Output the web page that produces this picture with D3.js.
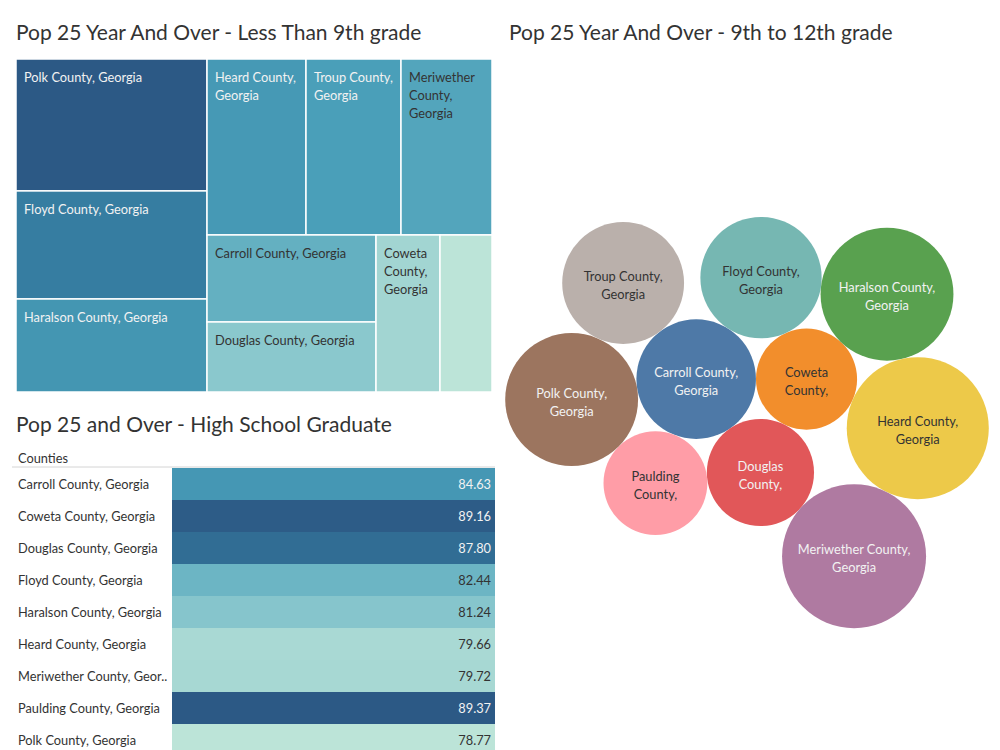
<!DOCTYPE html>
<html><head><meta charset="utf-8">
<script src="https://cdn.jsdelivr.net/npm/d3@7"></script>
<style>body{margin:0;background:#fff;} svg{display:block;font-family:"Lato",sans-serif;}</style>
</head><body><svg id="c" width="1000" height="750"></svg>
<script>
// ---------- data ----------
const counties = ["Carroll County, Georgia","Coweta County, Georgia","Douglas County, Georgia","Floyd County, Georgia","Haralson County, Georgia","Heard County, Georgia","Meriwether County, Georgia","Paulding County, Georgia","Polk County, Georgia","Troup County, Georgia"];
// Pop 25+ less than 9th grade (treemap sizes, estimated)
const lessThan9th = [4.61,3.15,3.71,6.47,5.57,5.46,5.02,2.56,7.90,5.24];
// Pop 25+ 9th to 12th grade (bubble sizes, estimated)
const grade9to12 = [10.2,7.3,8.2,10.5,12.6,14.4,14.8,7.7,12.6,10.6];
// High school graduate table
const tableCounties = ["Carroll County, Georgia","Coweta County, Georgia","Douglas County, Georgia","Floyd County, Georgia","Haralson County, Georgia","Heard County, Georgia","Meriwether County, Georgia","Paulding County, Georgia","Polk County, Georgia"];
const hsGrad = [84.63,89.16,87.80,82.44,81.24,79.66,79.72,89.37,78.77];
const titles = ["Pop 25 Year And Over - Less Than 9th grade","Pop 25 Year And Over - 9th to 12th grade","Pop 25 and Over - High School Graduate"];
const tableHeader = "Counties";

// ---------- styles ----------
const blueTeal = ["#bce4d8","#82c3cb","#4a9fb9","#347a9f","#2c5985"];
const darkText = "#333333", lightText = "#f2f2f2";
const FS = 12.8, TFS = 21;
const svg = d3.select("#c");

function seqColor(values){
  const lo=d3.min(values), hi=d3.max(values);
  const s=d3.scaleLinear().domain(blueTeal.map((_,i)=>lo+(hi-lo)*i/(blueTeal.length-1))).range(blueTeal);
  const t=d3.scaleLinear().domain([lo,hi]).range([0,1]);
  s.textFor = v => t(v) < 0.48 ? darkText : lightText;
  return s;
}
function relLum(c){
  const r=d3.rgb(c); const f=v=>{v/=255; return v<=0.03928? v/12.92 : Math.pow((v+0.055)/1.055,2.4);};
  return 0.2126*f(r.r)+0.7152*f(r.g)+0.0722*f(r.b);
}
const textOn = c => relLum(c) > 0.31 ? darkText : lightText;

const meas = svg.append("text").attr("visibility","hidden");
function tw(s,size){ meas.style("font-size",size+"px").text(s); return meas.node().getComputedTextLength(); }
function wrap(str,maxW,size){
  const words=str.split(" "); const lines=[]; let cur="";
  for(const w of words){
    const t=cur?cur+" "+w:w;
    if(!cur || tw(t,size)<=maxW) cur=t; else { lines.push(cur); cur=w; }
  }
  if(cur) lines.push(cur);
  return lines;
}

// ---------- titles ----------
svg.append("text").attr("x",16).attr("y",40).text(titles[0]).style("font-size",TFS+"px").attr("fill","#333");
svg.append("text").attr("x",509).attr("y",40).text(titles[1]).style("font-size",TFS+"px").attr("fill","#333");
svg.append("text").attr("x",16).attr("y",432).text(titles[2]).style("font-size",TFS+"px").attr("fill","#333");

// ---------- treemap ----------
const tm = {x:16,y:59,w:476,h:333};
const root = d3.hierarchy({children:counties.map((c,i)=>({name:c,value:lessThan9th[i]}))})
  .sum(d=>d.value||0).sort((a,b)=>b.value-a.value);
d3.treemap().size([tm.w,tm.h]).tile(d3.treemapSquarify)(root);
const tmColor = seqColor(lessThan9th);
const tg = svg.append("g").attr("transform",`translate(${tm.x},${tm.y})`);
const cells = tg.selectAll("g").data(root.leaves()).join("g");
cells.append("rect").attr("x",d=>d.x0).attr("y",d=>d.y0)
  .attr("width",d=>d.x1-d.x0).attr("height",d=>d.y1-d.y0)
  .attr("fill",d=>tmColor(d.data.value)).attr("stroke","#fff").attr("stroke-width",1.5);
cells.each(function(d){
  const w=d.x1-d.x0-16, h=d.y1-d.y0;
  const lines=wrap(d.data.name,w,FS);
  if(lines.some(l=>tw(l,FS)>w)) return;
  const maxLines=Math.floor((h-6)/18);
  const t=d3.select(this).append("text").style("font-size",FS+"px").attr("fill",tmColor.textFor(d.data.value));
  lines.slice(0,maxLines).forEach((l,i)=>t.append("tspan").attr("x",d.x0+8).attr("y",d.y0+23+i*18).text(l));
});

// ---------- bubbles (front-chain packing) ----------
const rScale = d3.scaleSqrt().domain([0,d3.max(grade9to12)]).range([0,72]);
const circles = counties.map((c,i)=>({name:c,value:grade9to12[i],r:rScale(grade9to12[i]),color:d3.schemeTableau10[i]}));

function placeOut(p,q,c){
  const dx=q.x-p.x, dy=q.y-p.y, d=Math.hypot(dx,dy);
  const ra=p.r+c.r, rb=q.r+c.r;
  const t=(d*d+ra*ra-rb*rb)/(2*d);
  const h=Math.sqrt(Math.max(0,ra*ra-t*t));
  const ux=dx/d, uy=dy/d;
  c.x=p.x+t*ux+h*uy; c.y=p.y+t*uy-h*ux;
}
function intersects(a,b){ const dx=b.x-a.x, dy=b.y-a.y, dr=a.r+b.r-1e-6; return dr>0 && dr*dr>dx*dx+dy*dy; }
function frontChainPack(cs){
  const n=cs.length; if(!n) return;
  const a=cs[0]; a.x=-a.r; a.y=0; if(n<2) return;
  const b=cs[1]; b.x=b.r; b.y=0; if(n<3) return;
  placeOut(b,a,cs[2]);
  const mk=d=>({_:d,next:null,prev:null});
  const A=mk(a),B=mk(b),C=mk(cs[2]);
  A.next=B;B.next=C;C.next=A;A.prev=C;B.prev=A;C.prev=B;
  let head=C;
  const dist=nd=>Math.hypot(nd._.x,nd._.y);
  for(let i=3;i<n;i++){
    const ci=cs[i];
    let m=head, md=dist(head), k0=head.next;
    while(k0!==head){ const dd=dist(k0); if(dd<md){m=k0;md=dd;} k0=k0.next; }
    let p=m.prev, q=m;
    for(;;){
      placeOut(p._,q._,ci);
      let j=q.next, k=p.prev, sj=q._.r, sk=p._.r, retry=false;
      if(j!==p){
        do{
          if(sj<=sk){
            if(intersects(j._,ci)){ q=j; p.next=q; q.prev=p; retry=true; break; }
            sj+=j._.r; j=j.next;
          } else {
            if(intersects(k._,ci)){ p=k; p.next=q; q.prev=p; retry=true; break; }
            sk+=k._.r; k=k.prev;
          }
        } while(j!==k.next);
      }
      if(!retry) break;
    }
    const N=mk(ci); N.prev=p; N.next=q; p.next=N; q.prev=N; head=N;
  }
}
frontChainPack(circles);
const bx0=d3.min(circles,d=>d.x-d.r), bx1=d3.max(circles,d=>d.x+d.r);
const by0=d3.min(circles,d=>d.y-d.r), by1=d3.max(circles,d=>d.y+d.r);
const bcx=747, bcy=422.6;
const bxS=d3.scaleLinear().domain([bx0,bx1]).range([bcx-(bx1-bx0)/2,bcx+(bx1-bx0)/2]);
const byS=d3.scaleLinear().domain([by0,by1]).range([bcy-(by1-by0)/2,bcy+(by1-by0)/2]);
const bg=svg.append("g");
const bub=bg.selectAll("g").data(circles).join("g");
bub.append("circle").attr("cx",d=>bxS(d.x)).attr("cy",d=>byS(d.y)).attr("r",d=>d.r).attr("fill",d=>d.color);
bub.each(function(d){
  const lines=wrap(d.name,1.6*d.r,FS).slice(0,2);
  const t=d3.select(this).append("text").style("font-size",FS+"px").attr("text-anchor","middle").attr("fill",textOn(d.color));
  const cx=bxS(d.x), cy=byS(d.y);
  const n=lines.length;
  lines.forEach((l,i)=>t.append("tspan").attr("x",cx).attr("y",cy+7+(i-(n-1)/2)*18).text(l));
});

// ---------- table ----------
const tb={x:12,labelX:18,barX:172,barX1:495,y:468,rowH:32,labelMax:150};
const tColor=seqColor(hsGrad);
svg.append("text").attr("x",tb.labelX).attr("y",463).text(tableHeader).style("font-size",FS+"px").attr("fill",darkText);
const yBand=d3.scaleBand().domain(tableCounties).range([tb.y,tb.y+tb.rowH*tableCounties.length]).padding(0);
const rows=svg.append("g").selectAll("g").data(tableCounties).join("g");
rows.append("rect").attr("x",tb.barX).attr("y",d=>yBand(d)).attr("width",tb.barX1-tb.barX).attr("height",yBand.bandwidth())
  .attr("fill",(d,i)=>tColor(hsGrad[i]));
rows.append("text").attr("x",tb.labelX).attr("y",d=>yBand(d)+yBand.bandwidth()/2+4.5).style("font-size",FS+"px").attr("fill",darkText)
  .text(d=>{ if(tw(d,FS)<=tb.labelMax) return d; let s=d; while(s.length&&tw(s+"..",FS)>tb.labelMax) s=s.slice(0,-1); return s+".."; });
rows.append("text").attr("x",tb.barX1-4).attr("text-anchor","end").attr("y",d=>yBand(d)+yBand.bandwidth()/2+4.5).style("font-size",FS+"px")
  .attr("fill",(d,i)=>tColor.textFor(hsGrad[i])).text((d,i)=>d3.format(".2f")(hsGrad[i]));
svg.append("line").attr("x1",tb.x).attr("x2",tb.barX1).attr("y1",467).attr("y2",467).attr("stroke","#d4d4d4").attr("stroke-width",1);
</script></body></html>
